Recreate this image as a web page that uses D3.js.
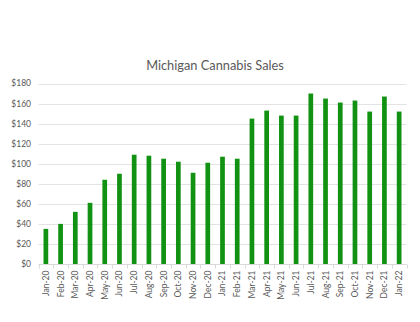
<!DOCTYPE html>
<html><head><meta charset="utf-8">
<script src="https://cdn.jsdelivr.net/npm/d3@7"></script>
<style>body{margin:0;background:#fff}</style>
</head><body>
<svg id="c" width="420" height="322"></svg>
<script>
const months = ["Jan-20","Feb-20","Mar-20","Apr-20","May-20","Jun-20","Jul-20","Aug-20","Sep-20","Oct-20","Nov-20","Dec-20","Jan-21","Feb-21","Mar-21","Apr-21","May-21","Jun-21","Jul-21","Aug-21","Sep-21","Oct-21","Nov-21","Dec-21","Jan-22"];
const sales = [35,40,52,61,84,90,109,108,105,102,91,101,107,105,145,153,148,148,170,165,161,163,152,167,152];
const yTicks = [0,20,40,60,80,100,120,140,160,180];
const title = "Michigan Cannabis Sales";

const svg = d3.select("#c");
const font = "Lato, 'Open Sans', sans-serif";
const m = {l:38.5, r:13.5, t:83.5, b:58};
const W = 420, H = 322;
const x = d3.scaleBand().domain(months).range([m.l, W - m.r]).paddingInner(0.68).paddingOuter(0.34);
const y = d3.scaleLinear().domain([0,180]).range([H - m.b, m.t]);

svg.append("text").attr("x", 215).attr("y", 70).attr("text-anchor","middle")
  .attr("font-family", font).attr("font-size", 12.8).attr("fill","#595959").text(title);

// gridlines
svg.append("g").selectAll("line").data(yTicks.filter(d=>d>0)).join("line")
  .attr("x1", m.l).attr("x2", W - m.r)
  .attr("y1", d=>Math.round(y(d))+0.5).attr("y2", d=>Math.round(y(d))+0.5)
  .attr("stroke","#e3e3e3").attr("stroke-width",1);

// y labels
svg.append("g").selectAll("text").data(yTicks).join("text")
  .attr("x", 31).attr("y", d=>y(d)).attr("dy","0.35em").attr("text-anchor","end")
  .attr("font-family", font).attr("font-size", 8.5).attr("fill","#595959")
  .text(d=>"$"+d);

// bars
svg.append("g").selectAll("rect").data(months).join("rect")
  .attr("x", (d)=>x(d)).attr("width", x.bandwidth())
  .attr("y", (d,i)=>y(sales[i])).attr("height", (d,i)=>y(0)-y(sales[i]))
  .attr("fill","#129212");

// x axis
const step = x.step();
const y0 = Math.round(y(0))+0.5;
svg.append("line").attr("x1", m.l).attr("x2", W - m.r).attr("y1", y0).attr("y2", y0).attr("stroke","#d9d9d9");
svg.append("g").selectAll("line").data(d3.range(months.length+1)).join("line")
  .attr("x1", i=>Math.round(m.l + i*step)+0.5).attr("x2", i=>Math.round(m.l + i*step)+0.5)
  .attr("y1", y0).attr("y2", y0+4).attr("stroke","#d9d9d9");
svg.append("g").selectAll("text").data(months).join("text")
  .attr("transform", d=>`translate(${x(d)+x.bandwidth()/2},${y0+6}) rotate(-90)`)
  .attr("dy","0.35em").attr("text-anchor","end")
  .attr("font-family", font).attr("font-size", 8.5).attr("fill","#595959")
  .text(d=>d);
</script>
</body></html>
